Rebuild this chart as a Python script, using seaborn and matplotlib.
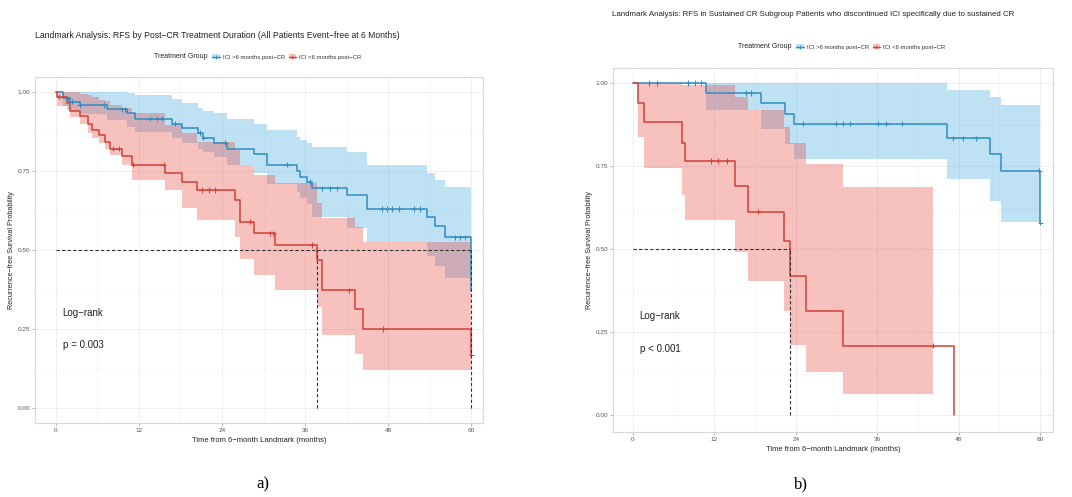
import numpy as np
import pandas as pd
import matplotlib
matplotlib.use("Agg")
import matplotlib.pyplot as plt
from matplotlib.patches import Patch
from matplotlib.lines import Line2D
from matplotlib.ticker import MultipleLocator, FixedLocator
import seaborn as sns

# ---------------- data ----------------
group_labels = ["ICI >6 months post\u2212CR", "ICI <6 months post\u2212CR"]

# Panel a) all patients event-free at 6 months
a_long_t = [0, 1.1, 2.1, 3.5, 7.4, 10.3, 11.5, 16.8, 18.2, 20.6, 21.3, 22.8, 24.7,
            28.6, 30.5, 34.8, 35.3, 36.3, 37.0, 42.0, 44.9, 53.6, 54.8, 56.2, 60]
a_long_s = [1.0, 0.98, 0.969, 0.959, 0.945, 0.932, 0.915, 0.90, 0.885, 0.87, 0.855, 0.84, 0.82,
            0.805, 0.77, 0.75, 0.73, 0.715, 0.695, 0.675, 0.63, 0.605, 0.575, 0.54, 0.37]
a_long_hi = [1.0, 1.0, 1.0, 1.0, 1.0, 0.996, 0.99, 0.977, 0.964, 0.948, 0.94, 0.932, 0.913,
             0.90, 0.88, 0.857, 0.848, 0.838, 0.825, 0.81, 0.77, 0.745, 0.72, 0.70, 0.70]
a_long_lo = [1.0, 0.955, 0.94, 0.93, 0.91, 0.89, 0.875, 0.855, 0.84, 0.82, 0.81, 0.795, 0.77,
             0.745, 0.71, 0.685, 0.665, 0.645, 0.605, 0.57, 0.525, 0.48, 0.45, 0.41, 0.41]
a_long_cens = [1.8, 2.3, 3.5, 6.9, 9.5, 10.0, 13.6, 14.6, 15.3, 17.2, 20.8, 21.3, 24.5, 33.4,
               36.7, 38.4, 39.6, 40.6, 47.1, 47.8, 48.5, 49.5, 51.7, 52.6, 57.7, 58.4, 59.1]

a_short_t = [0, 0.2, 1.6, 2.1, 3.5, 4.7, 5.2, 6.2, 7.1, 7.8, 9.5, 11.0, 15.8, 18.2, 20.4,
             25.9, 26.6, 28.6, 31.7, 37.7, 38.4, 43.2, 44.4, 60]
a_short_s = [1.0, 0.985, 0.964, 0.94, 0.925, 0.90, 0.88, 0.864, 0.843, 0.82, 0.797, 0.77, 0.743,
             0.716, 0.69, 0.658, 0.59, 0.553, 0.516, 0.468, 0.373, 0.312, 0.25, 0.168]
a_short_hi = [1.0, 1.0, 1.0, 1.0, 0.995, 0.99, 0.985, 0.975, 0.97, 0.96, 0.95, 0.935, 0.895,
              0.87, 0.843, 0.816, 0.769, 0.737, 0.711, 0.65, 0.60, 0.574, 0.526, 0.526]
a_short_lo = [1.0, 0.955, 0.943, 0.922, 0.90, 0.87, 0.855, 0.838, 0.82, 0.80, 0.769, 0.72, 0.69,
              0.632, 0.595, 0.542, 0.473, 0.42, 0.373, 0.32, 0.23, 0.17, 0.12, 0.12]
a_short_cens = [0.5, 8.3, 9.1, 11.2, 15.6, 21.1, 22.1, 23.0, 28.1, 31.0, 31.4, 37.0, 42.3, 47.3, 60]

# Panel b) sustained CR subgroup
b_long_t = [0, 10.8, 18.9, 22.4, 23.8, 46.3, 52.6, 54.2, 60]
b_long_s = [1.0, 0.97, 0.94, 0.908, 0.877, 0.834, 0.785, 0.735, 0.58]
b_long_hi = [1.0, 1.0, 1.0, 1.0, 1.0, 0.98, 0.958, 0.933, 0.933]
b_long_lo = [1.0, 0.918, 0.86, 0.816, 0.77, 0.711, 0.645, 0.582, 0.582]
b_long_cens = [2.3, 3.6, 8.1, 9.2, 10.1, 16.7, 17.4, 25.0, 29.9, 30.9, 32.0, 36.1, 37.3,
               39.7, 47.2, 48.6, 50.5, 59.9, 60]

b_short_t = [0, 0.7, 1.7, 7.2, 7.6, 15.0, 16.9, 22.3, 23.2, 25.5, 30.9, 47.3]
b_short_s = [1.0, 0.94, 0.883, 0.82, 0.765, 0.69, 0.613, 0.525, 0.42, 0.313, 0.21, 0.0]
b_short_ci_t = [0, 0.7, 1.7, 7.2, 7.6, 15.0, 16.9, 22.3, 23.2, 25.5, 30.9, 44.2]
b_short_hi = [1.0, 1.0, 1.0, 0.995, 0.995, 0.958, 0.918, 0.868, 0.818, 0.755, 0.686, 0.686]
b_short_lo = [1.0, 0.838, 0.743, 0.663, 0.588, 0.49, 0.405, 0.315, 0.213, 0.13, 0.065, 0.065]
b_short_cens = [11.5, 12.6, 13.9, 18.5, 44.2]

x_ticks = [0, 12, 24, 36, 48, 60]
y_ticks = [0.0, 0.25, 0.5, 0.75, 1.0]
y_tick_labels = ["0.00", "0.25", "0.50", "0.75", "1.00"]

title_a = ("Landmark Analysis: RFS by Post\u2212CR Treatment Duration (All Patients "
           "Event\u2212free at 6 Months)")
title_b = ("Landmark Analysis: RFS in Sustained CR Subgroup Patients who discontinued ICI "
           "specifically due to sustained CR")
x_label = "Time from 6\u2212month Landmark (months)"
y_label = "Recurrence\u2212free Survival Probability"
p_a = "p = 0.003"
p_b = "p < 0.001"

# ---------------- style ----------------
sns.set_theme(style="white")
plt.rcParams['font.family'] = ['Liberation Sans', 'DejaVu Sans']

line_colors = ["#2F8DC2", "#D43F36"]
fill_colors = ["#3DA5E0", "#E8453C"]

W, H = 1072, 497
fig = plt.figure(figsize=(W / 100, H / 100), dpi=100)


def frac(l, t, r, b):
    return [l / W, 1 - b / H, (r - l) / W, (b - t) / H]


def step_lookup(t_arr, s_arr, t):
    idx = np.searchsorted(np.asarray(t_arr), np.asarray(t), side='right') - 1
    return np.asarray(s_arr)[idx]


def draw_panel(ax, curves, xlim, ylim, ptxt):
    # confidence bands
    for (ct, lo, hi), fc in zip([c[2] for c in curves], fill_colors):
        ax.fill_between(ct, lo, hi, step='post', color=fc, alpha=0.33, lw=0, zorder=1)
    # survival curves
    frames, cframes = [], []
    for lab, (t, s, _, cens) in zip(group_labels, curves):
        frames.append(pd.DataFrame({"time": t, "surv": s, "group": lab}))
        cframes.append(pd.DataFrame({"time": cens, "surv": step_lookup(t, s, cens), "group": lab}))
    df = pd.concat(frames, ignore_index=True)
    cdf = pd.concat(cframes, ignore_index=True)
    pal = dict(zip(group_labels, line_colors))
    sns.lineplot(data=df, x="time", y="surv", hue="group", palette=pal, estimator=None,
                 sort=False, drawstyle="steps-post", linewidth=1.1, legend=False, ax=ax, zorder=3)
    sns.scatterplot(data=cdf, x="time", y="surv", hue="group", palette=pal, marker="+",
                    s=14, linewidth=0.7, legend=False, ax=ax, zorder=4)
    # median lines
    meds = []
    for (t, s, _, _) in curves:
        below = np.where(np.asarray(s) <= 0.5)[0]
        if len(below):
            meds.append(np.asarray(t)[below[0]])
    if meds:
        ax.plot([0, max(meds)], [0.5, 0.5], ls=(0, (3, 2)), color="#333333", lw=0.8, zorder=5)
        for m in meds:
            ax.plot([m, m], [0, 0.5], ls=(0, (3, 2)), color="#333333", lw=0.8, zorder=5)
    ax.text(1.0, 0.30, "Log\u2212rank", fontsize=7, color="#222222", va='center', ha='left')
    ax.text(1.0, 0.20, ptxt, fontsize=7, color="#222222", va='center', ha='left')

    ax.set_xlim(*xlim)
    ax.set_ylim(*ylim)
    ax.xaxis.set_major_locator(FixedLocator(x_ticks))
    ax.xaxis.set_minor_locator(MultipleLocator(6))
    ax.yaxis.set_major_locator(FixedLocator(y_ticks))
    ax.set_yticklabels(y_tick_labels)
    ax.yaxis.set_minor_locator(MultipleLocator(0.125))
    ax.grid(which='major', color="#EBEBEB", lw=0.6)
    ax.grid(which='minor', color="#F4F4F4", lw=0.4)
    ax.set_axisbelow(True)
    ax.tick_params(which='major', length=2, width=0.5, color="#999999", labelsize=4.6,
                   labelcolor="#555555", pad=1.5, left=True, bottom=True)
    ax.tick_params(which='minor', length=0)
    for sp in ax.spines.values():
        sp.set_visible(True)
        sp.set_color("#D9D9D9")
        sp.set_linewidth(0.8)
    ax.set_xlabel(x_label, fontsize=5.5, color="#222222", labelpad=3)
    ax.set_ylabel(y_label, fontsize=5.2, color="#222222", labelpad=1.5)


axA = fig.add_axes(frac(35, 77, 483, 423))
axB = fig.add_axes(frac(613, 68, 1053, 432))

draw_panel(axA,
           [(a_long_t, a_long_s, (a_long_t, a_long_lo, a_long_hi), a_long_cens),
            (a_short_t, a_short_s, (a_short_t, a_short_lo, a_short_hi), a_short_cens)],
           (-3.0, 61.7), (-0.0475, 1.0475), p_a)
draw_panel(axB,
           [(b_long_t, b_long_s, (b_long_t, b_long_lo, b_long_hi), b_long_cens),
            (b_short_t, b_short_s, (b_short_ci_t, b_short_lo, b_short_hi), b_short_cens)],
           (-2.94, 61.9), (-0.05, 1.045), p_b)

# titles
fig.text(35 / W, 1 - 35 / H, title_a, fontsize=6.25, color="#222222", va='center', ha='left')
fig.text(612 / W, 1 - 15 / H, title_b, fontsize=5.65, color="#222222", va='center', ha='left')


# legends
def make_handles():
    hs = []
    for lc, fc in zip(line_colors, fill_colors):
        hs.append((Patch(facecolor=fc, alpha=0.33, edgecolor='none'),
                   Line2D([], [], color=lc, lw=1.0, marker='+', markersize=3, markeredgewidth=0.6)))
    return hs


def add_legend(x_title_right, y_px):
    fig.text(x_title_right / W, 1 - y_px / H, "Treatment Group", fontsize=5, color="#222222",
             va='center', ha='right')
    fig.legend(make_handles(), group_labels, loc='center left',
               bbox_to_anchor=((x_title_right + 4) / W, 1 - y_px / H), ncol=2, frameon=False,
               fontsize=4.3, handlelength=1.3, handleheight=1.0, handletextpad=0.5,
               columnspacing=0.6, borderpad=0, borderaxespad=0, labelcolor="#333333")


add_legend(208, 57)
add_legend(792, 47)

# captions
fig.text(263 / W, 1 - 484 / H, "a)", fontsize=12, family=['Liberation Serif', 'DejaVu Serif'],
         va='center', ha='center', color='black')
fig.text(801 / W, 1 - 484 / H, "b)", fontsize=12, family=['Liberation Serif', 'DejaVu Serif'],
         va='center', ha='center', color='black')

fig.savefig("out.png", dpi=100, facecolor='white')
